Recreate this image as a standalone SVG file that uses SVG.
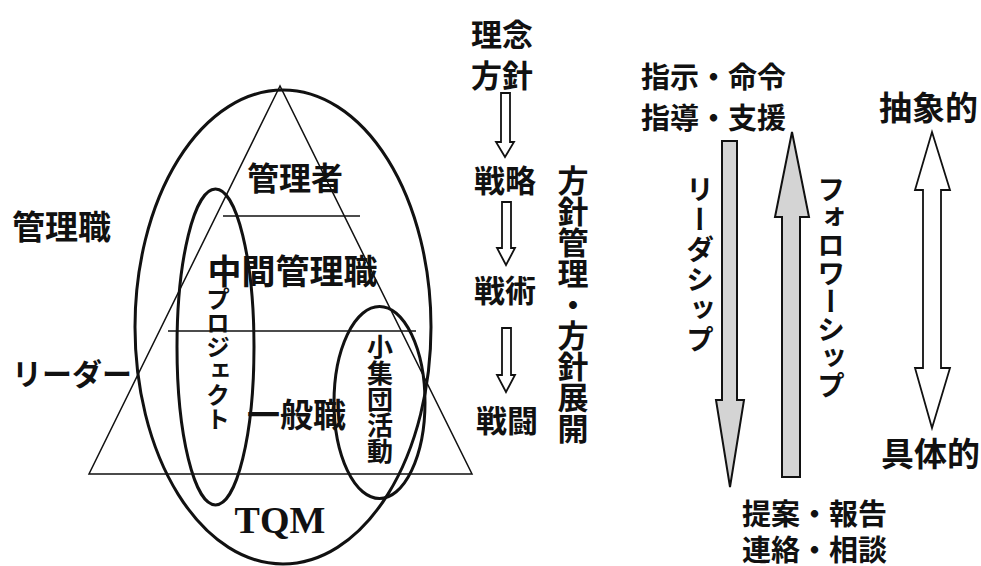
<svg xmlns="http://www.w3.org/2000/svg" width="981" height="566" viewBox="0 0 981 566">
<style>
.jp{font-family:"Noto Sans CJK JP","Noto Sans CJK SC",sans-serif;fill:#111;font-weight:bold}
.v{writing-mode:vertical-rl}
.thin{fill:none;stroke:#111;stroke-width:1.5}
.ell{fill:none;stroke:#111;stroke-width:3}
.grey{fill:#d4d4d4;stroke:#111;stroke-width:2;stroke-linejoin:miter}
.hollow{fill:#fff;stroke:#111;stroke-width:1.8;stroke-linejoin:miter}
</style>
<rect width="981" height="566" fill="#fff"/>
<g id="pyramid">
<polygon class="thin" points="280,86 89,474 472,474"/>
<line class="thin" x1="223" y1="216" x2="360" y2="216"/>
<line class="thin" x1="168" y1="331" x2="416" y2="331"/>
</g>
<g id="tqm">
<ellipse class="ell" cx="283" cy="327" rx="148" ry="237"/>
<text x="280" y="533" text-anchor="middle" font-family="Liberation Serif,serif" font-weight="bold" font-size="38" fill="#111">TQM</text>
</g>
<g id="project">
<ellipse class="ell" cx="215.5" cy="347" rx="38.5" ry="158"/>
<text class="jp v" x="218" y="287" font-size="24" font-weight="500">プロジェクト</text>
</g>
<g id="small-group">
<ellipse class="ell" cx="379.5" cy="402.5" rx="45.5" ry="96"/>
<text class="jp v" x="380" y="334" font-size="26" font-weight="500">小集団活動</text>
</g>
<g id="levels">
<text class="jp" x="295" y="190" text-anchor="middle" font-size="32">管理者</text>
<text class="jp" x="292.5" y="284" text-anchor="middle" font-size="34">中間管理職</text>
<text class="jp" x="247" y="427" font-size="33">一般職</text>
<text class="jp" x="12" y="239" font-size="33">管理職</text>
<text class="jp" x="12" y="385" font-size="30">リーダー</text>
</g>
<g id="policy">
<text class="jp" x="502" y="46" text-anchor="middle" font-size="31">理念</text>
<text class="jp" x="502" y="87" text-anchor="middle" font-size="31">方針</text>
<text class="jp" x="505" y="192" text-anchor="middle" font-size="31">戦略</text>
<text class="jp" x="505" y="302" text-anchor="middle" font-size="31">戦術</text>
<text class="jp" x="507" y="432" text-anchor="middle" font-size="31">戦闘</text>
<text class="jp v" x="573" y="165" font-size="31">方針管理・方針展開</text>
</g>
<g id="connectors">
<polygon class="hollow" points="501,93 510,93 510,142 514,142 505,157 496,142 501,142"/>
<polygon class="hollow" points="502,202 511,202 511,248 515,248 506,265 497,248 502,248"/>
<polygon class="hollow" points="502,328 511,328 511,375 515,375 506,392 497,375 502,375"/>
<polygon class="grey" points="722,141 737,141 737,400 744,400 730,487 716,400 722,400"/>
<polygon class="grey" points="782,477 800,477 800,217 809,217 792,132 775,217 782,217"/>
<polygon class="hollow" points="932,132 950,190 941,190 941,368 950,368 932,428 915,368 923,368 923,190 915,190"/>
</g>
<g id="leadership">
<text class="jp" x="641" y="88" font-size="29">指示・命令</text>
<text class="jp" x="641" y="129" font-size="29">指導・支援</text>
<text class="jp v" x="700" y="175" font-size="28" letter-spacing="2">リーダシップ</text>
<text class="jp v" x="831" y="175" font-size="28">フォロワーシップ</text>
<text class="jp" x="742" y="525" font-size="29">提案・報告</text>
<text class="jp" x="742" y="561" font-size="29">連絡・相談</text>
</g>
<g id="abstraction">
<text class="jp" x="879" y="120" font-size="33">抽象的</text>
<text class="jp" x="881" y="466" font-size="33">具体的</text>
</g>
</svg>
